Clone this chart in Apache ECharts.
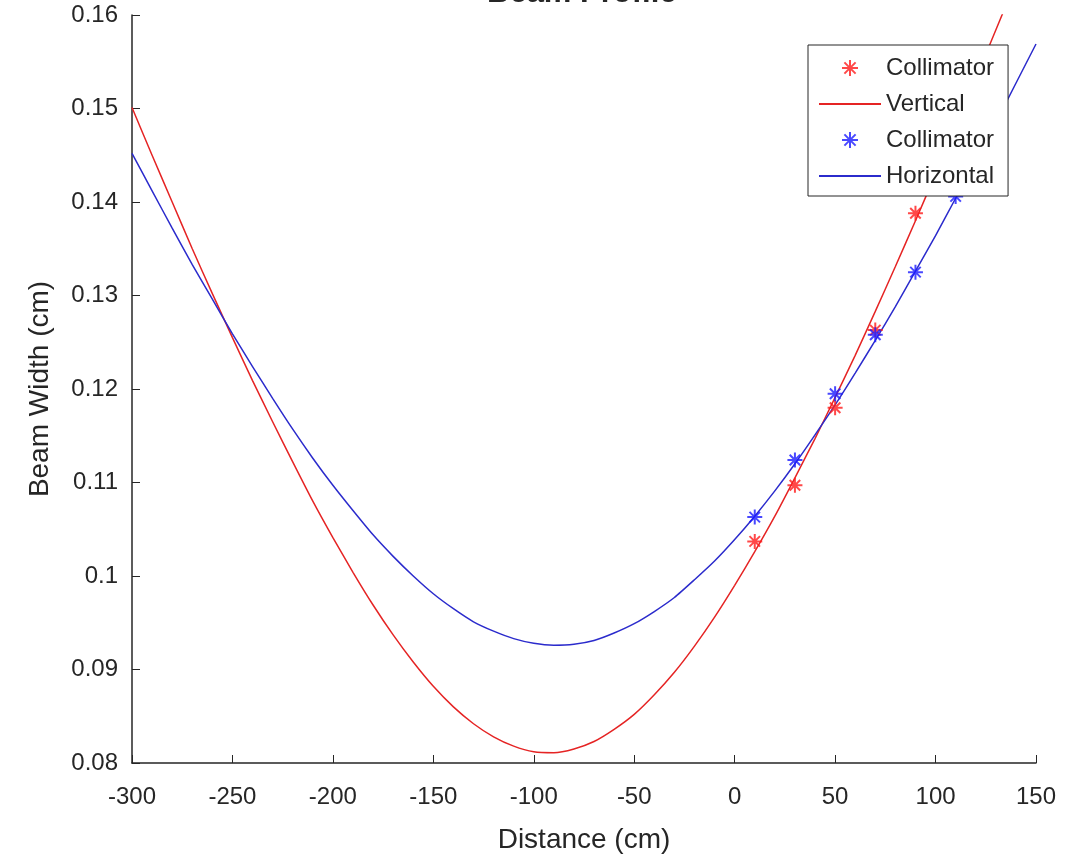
<!DOCTYPE html>
<html style="height: 100%">
<head>
<meta charset="utf-8">
<script src="https://cdn.jsdelivr.net/npm/echarts@6/dist/echarts.min.js"></script>
</head>
<body style="height: 100%; margin: 0; background: #fff">
<div id="container" style="width: 1087px; height: 859px"></div>
<script type="text/javascript">
// distance grid for the fitted envelopes (cm), every 10 cm
var distance = [-300, -290, -280, -270, -260, -250, -240, -230, -220, -210,
    -200, -190, -180, -170, -160, -150, -140, -130, -120, -110,
    -100, -90, -80, -70, -60, -50, -40, -30, -20, -10,
    0, 10, 20, 30, 40, 50, 60, 70, 80, 90,
    100, 110, 120, 130, 140, 150];
// vertical fit (red line)
var verticalFit = [0.1501, 0.1450, 0.1400, 0.1350, 0.1302, 0.1255, 0.1209, 0.1165, 0.1122, 0.1080,
    0.1041, 0.1004, 0.0969, 0.0937, 0.0908, 0.0882, 0.0860, 0.0842, 0.0828, 0.0818,
    0.0812, 0.0811, 0.0815, 0.0823, 0.0836, 0.0852, 0.0873, 0.0897, 0.0925, 0.0956,
    0.0990, 0.1026, 0.1064, 0.1105, 0.1147, 0.1191, 0.1236, 0.1283, 0.1331, 0.1380,
    0.1430, 0.1480, 0.1532, 0.1584, 0.1636, 0.1690];
// horizontal fit (blue line)
var horizontalFit = [0.1452, 0.1412, 0.1372, 0.1333, 0.1296, 0.1259, 0.1224, 0.1190, 0.1157, 0.1126,
    0.1097, 0.1070, 0.1044, 0.1021, 0.1000, 0.0981, 0.0965, 0.0951, 0.0941, 0.0933,
    0.0928, 0.0926, 0.0927, 0.0931, 0.0939, 0.0949, 0.0962, 0.0977, 0.0996, 0.1016,
    0.1039, 0.1064, 0.1091, 0.1120, 0.1151, 0.1183, 0.1217, 0.1252, 0.1288, 0.1326,
    0.1364, 0.1404, 0.1444, 0.1485, 0.1527, 0.1569];

// collimator measurements
var vertPos = [10, 30, 50, 70, 90];
var vertWidth = [0.1037, 0.1097, 0.1180, 0.1263, 0.1388];
var horizPos = [10, 30, 50, 70, 90, 110];
var horizWidth = [0.1063, 0.1124, 0.1195, 0.1258, 0.1325, 0.1406];

var xTicks = [-300, 150, 50];
var yTicks = [0.08, 0.16, 0.01];

function pairs(xs, ys) {
    return xs.map(function (x, i) { return [x, ys[i]]; });
}

var star = 'path://M0,-10L0,10M-10,0L10,0M-7,-7L7,7M-7,7L7,-7';
var font = 'Liberation Sans, Arial, sans-serif';
var ink = '#262626';

var myChart = echarts.init(document.getElementById('container'));

var option = {
    backgroundColor: '#fff',
    animation: false,
    title: {
        text: 'Beam Profile',
        left: 482,
        top: -27,
        textStyle: { fontFamily: font, fontSize: 31, fontWeight: 'bold', color: ink }
    },
    grid: { left: 132, right: 51, top: 15, bottom: 93 },
    legend: {
        orient: 'vertical',
        left: 808,
        top: 45,
        z: 20,
        zlevel: 1,
        padding: [11, 14, 8, 10],
        itemWidth: 62,
        itemHeight: 16,
        itemGap: 12,
        borderColor: ink,
        borderWidth: 1,
        borderRadius: 0,
        backgroundColor: '#fff',
        textStyle: { fontFamily: font, fontSize: 24, color: ink },
        formatter: function (name) {
            return name.indexOf('Collimator') === 0 ? 'Collimator' : name;
        },
        data: [
            'Collimator V',
            { name: 'Vertical', itemStyle: { opacity: 0 } },
            'Collimator H',
            { name: 'Horizontal', itemStyle: { opacity: 0 } }
        ]
    },
    xAxis: {
        type: 'value',
        min: xTicks[0],
        max: xTicks[1],
        interval: xTicks[2],
        name: 'Distance (cm)',
        nameLocation: 'middle',
        nameGap: 63,
        nameTextStyle: { fontFamily: font, fontSize: 28, color: ink },
        axisLine: { onZero: false, lineStyle: { color: ink, width: 1.5 } },
        axisTick: { inside: true, length: 8, lineStyle: { color: ink } },
        axisLabel: { margin: 22, fontFamily: font, fontSize: 24, color: ink },
        splitLine: { show: false }
    },
    yAxis: {
        type: 'value',
        min: yTicks[0],
        max: yTicks[1],
        interval: yTicks[2],
        name: 'Beam Width (cm)',
        nameLocation: 'middle',
        nameGap: 78,
        nameTextStyle: { fontFamily: font, fontSize: 28, color: ink },
        axisLine: { show: true, onZero: false, lineStyle: { color: ink, width: 1.5 } },
        axisTick: { show: true, inside: true, length: 8, lineStyle: { color: ink } },
        axisLabel: {
            margin: 14, fontFamily: font, fontSize: 24, color: ink,
            formatter: function (v) { return String(+v.toFixed(2)); }
        },
        splitLine: { show: false }
    },
    series: [
        {
            name: 'Collimator V',
            type: 'scatter',
            symbol: star,
            symbolSize: 15,
            itemStyle: { color: '#ff1a1a', borderColor: '#ff1a1a', borderWidth: 2 },
            data: pairs(vertPos, vertWidth),
            z: 4
        },
        {
            name: 'Vertical',
            type: 'line',
            smooth: 0.2,
            symbol: 'none',
            lineStyle: { color: '#e52424', width: 1.5 },
            itemStyle: { color: '#e52424' },
            data: pairs(distance, verticalFit)
        },
        {
            name: 'Collimator H',
            type: 'scatter',
            symbol: star,
            symbolSize: 15,
            itemStyle: { color: '#1a1aff', borderColor: '#1a1aff', borderWidth: 2 },
            data: pairs(horizPos, horizWidth),
            z: 4
        },
        {
            name: 'Horizontal',
            type: 'line',
            smooth: 0.2,
            symbol: 'none',
            lineStyle: { color: '#2b2bcc', width: 1.5 },
            itemStyle: { color: '#2b2bcc' },
            data: pairs(distance, horizontalFit)
        }
    ]
};

myChart.setOption(option);
</script>
</body>
</html>
